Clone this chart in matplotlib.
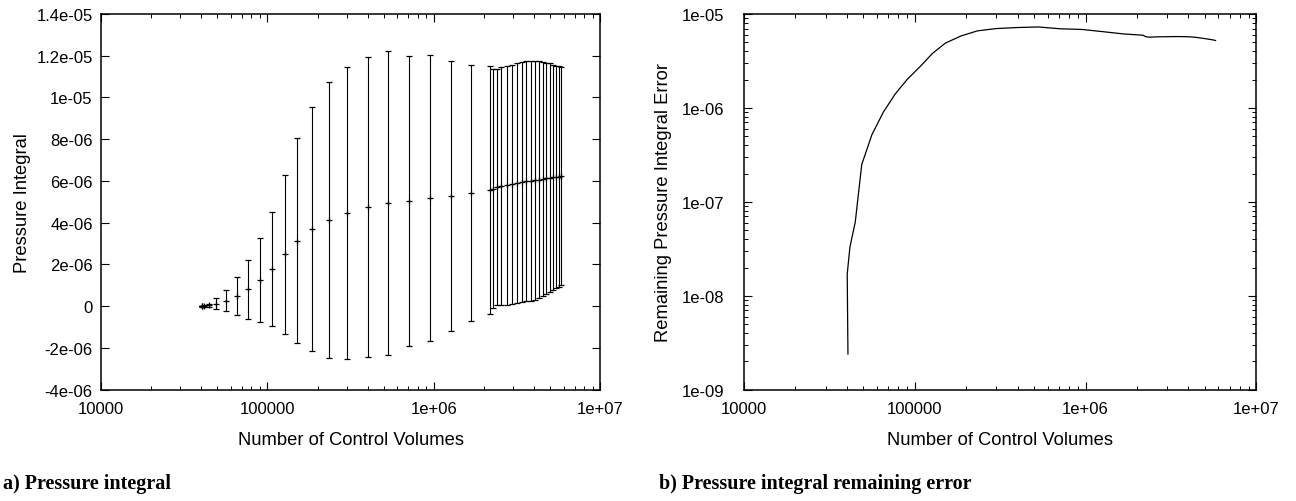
import numpy as np
import matplotlib
matplotlib.use('Agg')
import matplotlib.pyplot as plt
from matplotlib.ticker import FixedLocator, FuncFormatter, LogLocator, NullFormatter

plt.rcParams['font.family'] = ['Liberation Sans', 'DejaVu Sans']

# grid refinement levels (number of control volumes)
n_cv = [40600, 40200, 41700, 44800, 48900, 56100, 65400, 76600, 90400, 107100,
        127000, 151000, 186000, 233000, 300000, 400000, 530000, 710000, 950000,
        1260000, 1660000,
        2170000, 2260000, 2400000, 2520000, 2730000, 2940000, 3170000, 3360000,
        3580000, 3810000, 4030000, 4270000, 4500000, 4720000, 4970000, 5210000,
        5430000, 5640000, 5770000]

# pressure integral estimate, in units of 1e-6
p_mean = [0.0, 0.0, 0.01, 0.04, 0.12, 0.27, 0.50, 0.81, 1.26, 1.78,
          2.49, 3.14, 3.70, 4.13, 4.48, 4.74, 4.96, 5.05, 5.17,
          5.28, 5.42,
          5.57, 5.64, 5.70, 5.74, 5.80, 5.85, 5.90, 5.94,
          5.98, 6.01, 6.04, 6.07, 6.10, 6.12, 6.15, 6.17,
          6.19, 6.21, 6.23]

# remaining error of the integral, in units of 1e-6
p_err = [0.0024, 0.017, 0.033, 0.061, 0.25, 0.52, 0.90, 1.40, 2.02, 2.74,
         3.81, 4.90, 5.83, 6.62, 7.00, 7.18, 7.28, 6.96, 6.85,
         6.49, 6.14,
         5.94, 5.72, 5.66, 5.70, 5.72, 5.73, 5.74, 5.75,
         5.75, 5.74, 5.72, 5.68, 5.62, 5.55, 5.48, 5.41,
         5.34, 5.28, 5.22]

p_yticks = [-4e-6, -2e-6, 0, 2e-6, 4e-6, 6e-6, 8e-6, 1e-5, 1.2e-5, 1.4e-5]
x_ticks = [1e4, 1e5, 1e6, 1e7]
err_ticks = [1e-9, 1e-8, 1e-7, 1e-6, 1e-5]

x = np.array(n_cv, dtype=float)
mean = np.array(p_mean) * 1e-6
err = np.array(p_err) * 1e-6

gfmt = FuncFormatter(lambda v, pos: '%g' % v)
TICK_FS = 12
LABEL_FS = 13.2


def style_axes(ax):
    ax.tick_params(which='both', direction='in', top=True, right=True, labelsize=TICK_FS)
    ax.tick_params(which='major', length=6, width=0.8, pad=6)
    ax.tick_params(axis='x', which='major', pad=8)
    ax.tick_params(which='minor', length=3, width=0.7)
    for s in ax.spines.values():
        s.set_linewidth(1.1)
    ax.set_xscale('log')
    ax.set_xlim(1e4, 1e7)
    ax.xaxis.set_major_locator(FixedLocator(x_ticks))
    ax.xaxis.set_major_formatter(gfmt)
    ax.xaxis.set_minor_locator(LogLocator(base=10, subs=np.arange(2, 10)))
    ax.xaxis.set_minor_formatter(NullFormatter())
    ax.set_xlabel('Number of Control Volumes', fontsize=LABEL_FS, labelpad=11)


fig = plt.figure(figsize=(12.96, 5.02), dpi=100)

# a) pressure integral with error bars
ax1 = fig.add_axes([0.0779, 0.2217, 0.3854, 0.7484])
ax1.errorbar(x, mean, yerr=err, fmt='+', color='black', ms=5, mew=0.9,
             elinewidth=0.8, capsize=2.2, capthick=0.8)
style_axes(ax1)
ax1.set_ylim(-4e-6, 1.4e-5)
ax1.yaxis.set_major_locator(FixedLocator(p_yticks))
ax1.yaxis.set_major_formatter(gfmt)
ax1.set_ylabel('Pressure Integral', fontsize=LABEL_FS, labelpad=4)

# b) remaining error on log-log axes
ax2 = fig.add_axes([0.5741, 0.2217, 0.3953, 0.7484])
ax2.plot(x, err, color='black', lw=0.9)
style_axes(ax2)
ax2.set_yscale('log')
ax2.set_ylim(1e-9, 1e-5)
ax2.yaxis.set_major_locator(FixedLocator(err_ticks))
ax2.yaxis.set_major_formatter(gfmt)
ax2.yaxis.set_minor_locator(LogLocator(base=10, subs=np.arange(2, 10)))
ax2.yaxis.set_minor_formatter(NullFormatter())
ax2.tick_params(axis='y', which='major', pad=14)
ax2.set_ylabel('Remaining Pressure Integral Error', fontsize=LABEL_FS, labelpad=7)

fig.text(0.002, 0.025, 'a) Pressure integral', family='Liberation Serif',
         fontweight='bold', fontsize=14.5, ha='left', va='baseline')
fig.text(0.5085, 0.025, 'b) Pressure integral remaining error', family='Liberation Serif',
         fontweight='bold', fontsize=14.5, ha='left', va='baseline')

fig.savefig('out.png', dpi=100)
